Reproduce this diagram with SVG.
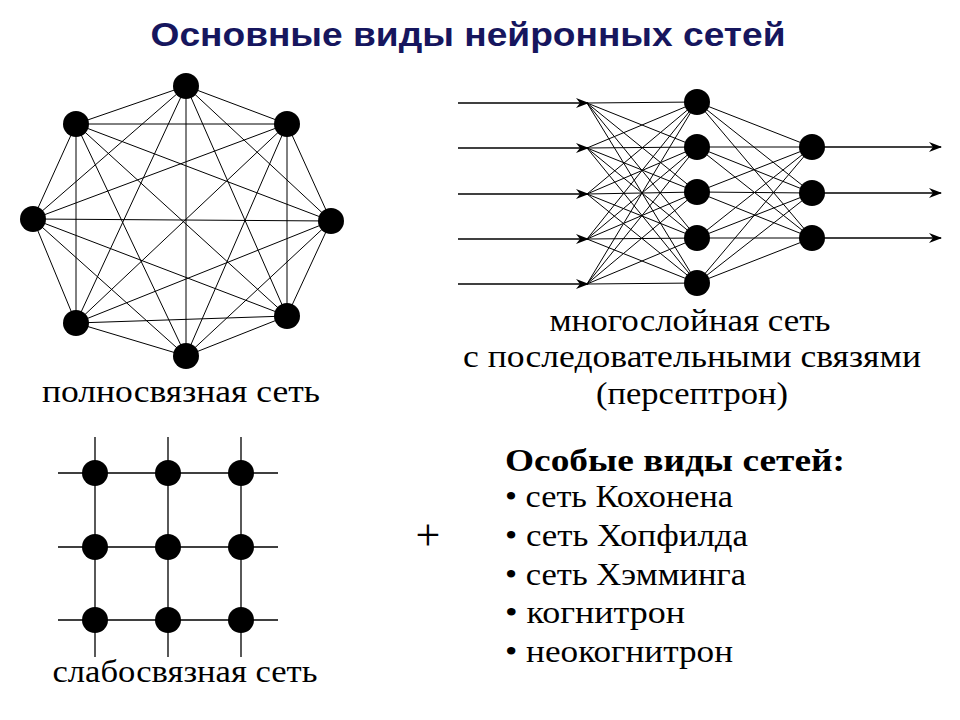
<svg xmlns="http://www.w3.org/2000/svg" width="960" height="720" viewBox="0 0 960 720">
<style>
.l{stroke:#000;stroke-width:1;fill:none}
.a{stroke:#000;stroke-width:1.3;fill:none}
.n{fill:#000}
.t{font-family:"Liberation Serif",serif;font-size:32px;fill:#000}
.c{text-anchor:middle}
.p{font-size:44px}
</style>
<defs>
<marker id="ar" markerWidth="14" markerHeight="10" refX="12" refY="5" orient="auto" markerUnits="userSpaceOnUse">
<path d="M0,0 L13,5 L0,10 L4,5 Z" fill="#000"/>
</marker>
</defs>
<rect width="960" height="720" fill="#fff"/>
<text x="468" y="46" class="c" font-family="Liberation Sans,sans-serif" font-size="34" font-weight="bold" fill="#16165e" textLength="635" lengthAdjust="spacingAndGlyphs">Основные виды нейронных сетей</text>
<g id="connectors">
<path class="l" d="M186,86L287,124M186,86L331,221M186,86L287,316M186,86L186,356M186,86L76,323M186,86L33,219M186,86L76,124M287,124L331,221M287,124L287,316M287,124L186,356M287,124L76,323M287,124L33,219M287,124L76,124M331,221L287,316M331,221L186,356M331,221L76,323M331,221L33,219M331,221L76,124M287,316L186,356M287,316L76,323M287,316L33,219M287,316L76,124M186,356L76,323M186,356L33,219M186,356L76,124M76,323L33,219M76,323L76,124M33,219L76,124"/>
<path class="l" d="M587,103L697,102M587,103L697,147M587,103L697,192M587,103L697,238M587,103L697,283M587,148L697,102M587,148L697,147M587,148L697,192M587,148L697,238M587,148L697,283M587,194L697,102M587,194L697,147M587,194L697,192M587,194L697,238M587,194L697,283M587,239L697,102M587,239L697,147M587,239L697,192M587,239L697,238M587,239L697,283M587,284L697,102M587,284L697,147M587,284L697,192M587,284L697,238M587,284L697,283M697,102L812,147M697,102L812,193M697,102L812,238M697,147L812,147M697,147L812,193M697,147L812,238M697,192L812,147M697,192L812,193M697,192L812,238M697,238L812,147M697,238L812,193M697,238L812,238M697,283L812,147M697,283L812,193M697,283L812,238"/>
<g class="a" marker-end="url(#ar)">
<line x1="458" y1="103" x2="588" y2="103"/><line x1="458" y1="148" x2="588" y2="148"/><line x1="458" y1="194" x2="588" y2="194"/><line x1="458" y1="239" x2="588" y2="239"/><line x1="458" y1="284" x2="588" y2="284"/>
<line x1="812" y1="147" x2="941" y2="147"/><line x1="812" y1="193" x2="941" y2="193"/><line x1="812" y1="238" x2="941" y2="238"/>
</g>
<path class="a" d="M58,473H278M58,547H278M58,620H278M95,437V657M168,437V657M241,437V657"/>
</g>
<g id="full" class="n"><circle cx="186" cy="86" r="13"/><circle cx="287" cy="124" r="13"/><circle cx="331" cy="221" r="13"/><circle cx="287" cy="316" r="13"/><circle cx="186" cy="356" r="13"/><circle cx="76" cy="323" r="13"/><circle cx="33" cy="219" r="13"/><circle cx="76" cy="124" r="13"/></g>
<g id="perceptron" class="n"><circle cx="697" cy="102" r="13"/><circle cx="697" cy="147" r="13"/><circle cx="697" cy="192" r="13"/><circle cx="697" cy="238" r="13"/><circle cx="697" cy="283" r="13"/><circle cx="812" cy="147" r="13"/><circle cx="812" cy="193" r="13"/><circle cx="812" cy="238" r="13"/></g>
<g id="grid" class="n"><circle cx="95" cy="473" r="13"/><circle cx="168" cy="473" r="13"/><circle cx="241" cy="473" r="13"/><circle cx="95" cy="547" r="13"/><circle cx="168" cy="547" r="13"/><circle cx="241" cy="547" r="13"/><circle cx="95" cy="620" r="13"/><circle cx="168" cy="620" r="13"/><circle cx="241" cy="620" r="13"/></g>
<text x="181" y="402" class="t c" textLength="278" lengthAdjust="spacingAndGlyphs">полносвязная сеть</text>
<text x="690" y="331" class="t c" textLength="281" lengthAdjust="spacingAndGlyphs">многослойная сеть</text>
<text x="692" y="367" class="t c" textLength="458" lengthAdjust="spacingAndGlyphs">с последовательными связями</text>
<text x="692" y="404" class="t c" textLength="192" lengthAdjust="spacingAndGlyphs">(персептрон)</text>
<text x="185" y="682" class="t c" textLength="265" lengthAdjust="spacingAndGlyphs">слабосвязная сеть</text>
<text x="428" y="550" class="t c p">+</text>
<text x="505" y="471" class="t" font-weight="bold" textLength="340" lengthAdjust="spacingAndGlyphs">Особые виды сетей:</text>
<text x="505" y="507" class="t" textLength="228" lengthAdjust="spacingAndGlyphs">• сеть Кохонена</text>
<text x="505" y="546" class="t" textLength="243" lengthAdjust="spacingAndGlyphs">• сеть Хопфилда</text>
<text x="505" y="585" class="t" textLength="241" lengthAdjust="spacingAndGlyphs">• сеть Хэмминга</text>
<text x="505" y="623" class="t" textLength="180" lengthAdjust="spacingAndGlyphs">• когнитрон</text>
<text x="505" y="662" class="t" textLength="228" lengthAdjust="spacingAndGlyphs">• неокогнитрон</text>
</svg>
